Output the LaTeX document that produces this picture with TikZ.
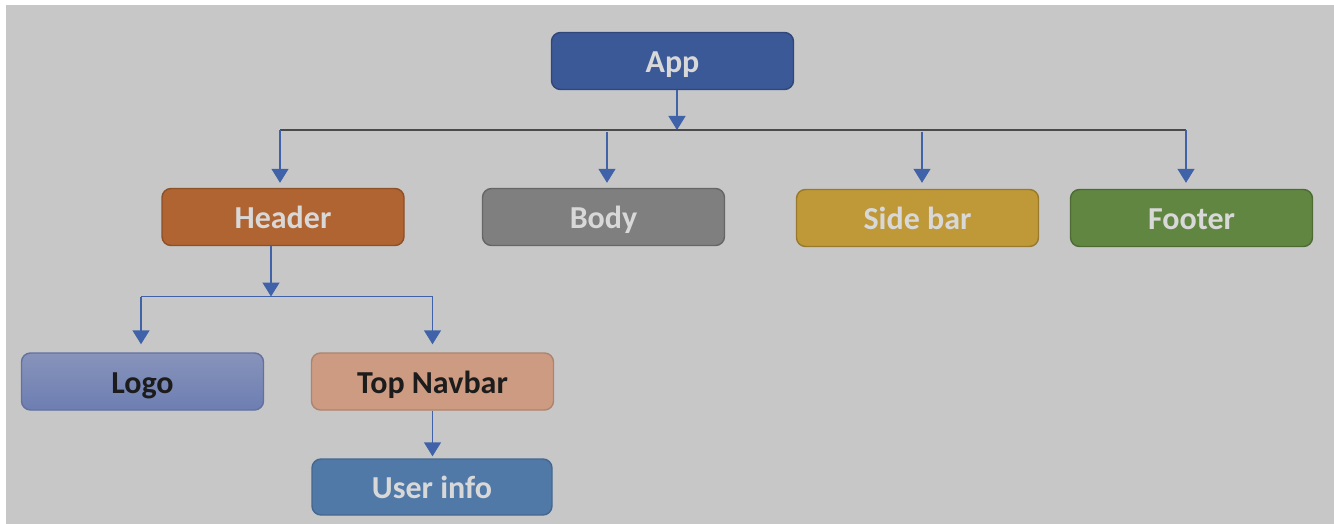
\documentclass[tikz,border=0pt]{standalone}
\usepackage{fontspec}
\setmainfont{Carlito}
\usetikzlibrary{arrows.meta}

\definecolor{canvas}{HTML}{C7C7C7}
\definecolor{linkblue}{HTML}{4062A8}
\definecolor{busgray}{HTML}{4A4A4A}
\definecolor{lighttext}{HTML}{D8D8D8}
\definecolor{darktext}{HTML}{1C1C1C}
\definecolor{appfill}{HTML}{3B5997}
\definecolor{headerfill}{HTML}{B06431}
\definecolor{bodyfill}{HTML}{7F7F7F}
\definecolor{sidefill}{HTML}{BF9837}
\definecolor{footerfill}{HTML}{618641}
\definecolor{logotop}{HTML}{8793BA}
\definecolor{logobot}{HTML}{6D7EB2}
\definecolor{navfill}{HTML}{CD9B81}
\definecolor{userfill}{HTML}{5079A8}

% one drawing unit is half a point; lengths in styles are given in pt
\tikzset{
  box/.style={rectangle, rounded corners=4.5pt, line width=0.7pt, minimum width=121pt, minimum height=28.5pt,
    inner sep=0pt, text height=14.5pt, text depth=3pt,
    font=\fontsize{16pt}{18pt}\selectfont\bfseries, text=lighttext},
  darkbox/.style={box, text=darktext},
  link/.style={draw=linkblue, line width=0.7pt, -{Triangle[length=7pt, width=8.5pt]}},
  bus/.style={draw=busgray, line width=0.75pt},
  subbus/.style={draw=linkblue, line width=0.75pt},
}

\begin{document}
\begin{tikzpicture}[x=0.5pt, y=-0.5pt]
  \useasboundingbox (0,0) rectangle (1334,524);
  \fill[white] (0,0) rectangle (1334,524);
  \fill[canvas] (6,5) rectangle (1334,524);

  % boxes
  \node[box, fill=appfill, draw=appfill!80!black] (app) at (672.5,61) {App};
  \node[box, fill=headerfill, draw=headerfill!80!black] (header) at (283,217) {Header};
  \node[box, fill=bodyfill, draw=bodyfill!80!black] (body) at (603.5,217) {Body};
  \node[box, fill=sidefill, draw=sidefill!80!black] (sidebar) at (917.5,218) {Side bar};
  \node[box, fill=footerfill, draw=footerfill!80!black] (footer) at (1191.5,218) {Footer};
  \node[darkbox, top color=logotop, bottom color=logobot, draw=logobot!90!black] (logo) at (142.5,381.5) {Logo};
  \node[darkbox, fill=navfill, draw=navfill!85!black] (navbar) at (432.5,381.5) {Top Navbar};
  \node[box, fill=userfill, draw=userfill!85!black, minimum width=120pt, minimum height=28pt] (user) at (432,487) {User info};

  % junction points
  \coordinate (busmid) at (677,130);
  \coordinate (busL) at (280,130);
  \coordinate (busB) at (607,130);
  \coordinate (busS) at (922,130);
  \coordinate (busR) at (1186,130);
  \coordinate (submid) at (271,296.5);
  \coordinate (subL) at (141,296.5);
  \coordinate (subR) at (432.5,296.5);

  % top level
  \draw[link] (app.south -| busmid) -- (busmid);
  \draw[bus] (busL) -- (busR);
  \draw[link] (busL) -- ([yshift=2.5pt]busL |- header.north);
  \draw[link] (busB) ++(0,2) -- ([yshift=2.5pt]busB |- body.north);
  \draw[link] (busS) ++(0,2) -- ([yshift=3pt]busS |- sidebar.north);
  \draw[link] (busR) -- ([yshift=3pt]busR |- footer.north);

  % header branch
  \draw[link] (header.south -| submid) -- (submid);
  \draw[subbus] (subL) -- (subR);
  \draw[link] (subL) -- ([yshift=4pt]subL |- logo.north);
  \draw[link] (subR) -- ([yshift=4pt]subR |- navbar.north);
  \draw[link] (navbar.south -| subR) -- ([yshift=1pt]subR |- user.north);
\end{tikzpicture}
\end{document}
